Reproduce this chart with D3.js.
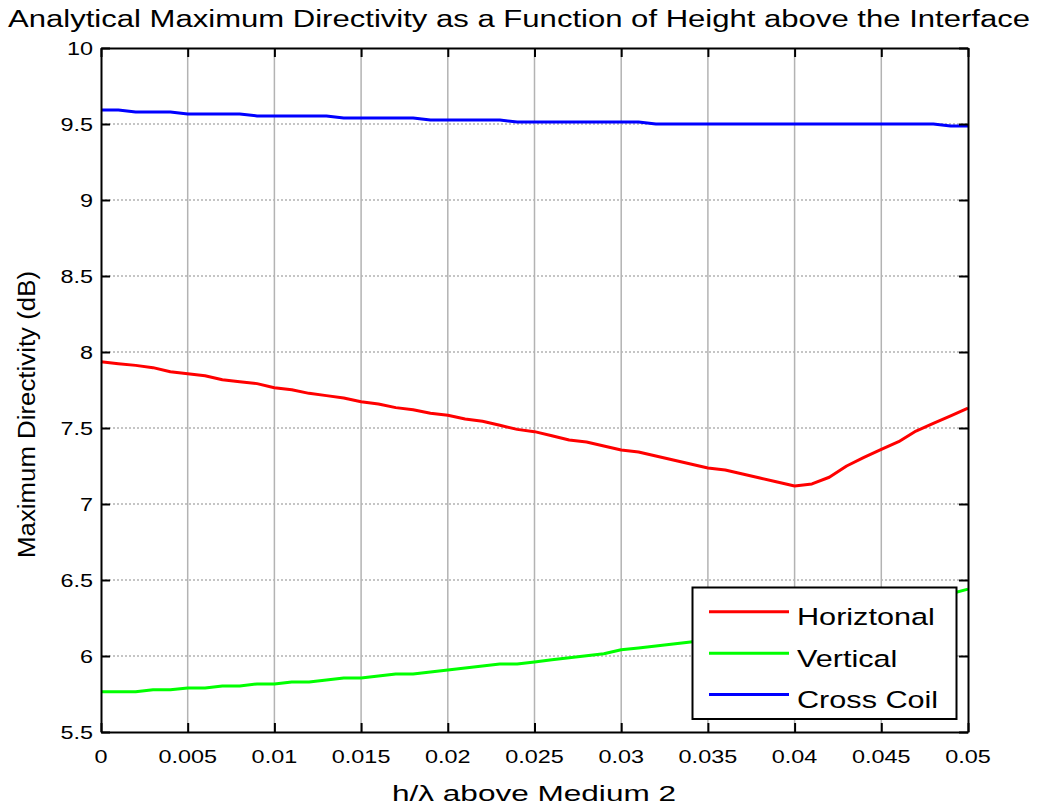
<!DOCTYPE html>
<html>
<head>
<meta charset="utf-8">
<script src="https://cdn.jsdelivr.net/npm/d3@7/dist/d3.min.js"></script>
<style>
  html, body { margin: 0; padding: 0; background: #fff; }
  svg { display: block; font-family: "Liberation Sans", Arial, sans-serif; }
</style>
</head>
<body>
<svg id="chart" width="1041" height="808"></svg>
<script>
// Height above the interface, in wavelengths
const hLambda = [
  0.000, 0.001, 0.002, 0.003, 0.004, 0.005, 0.006, 0.007, 0.008, 0.009,
  0.010, 0.011, 0.012, 0.013, 0.014, 0.015, 0.016, 0.017, 0.018, 0.019,
  0.020, 0.021, 0.022, 0.023, 0.024, 0.025, 0.026, 0.027, 0.028, 0.029,
  0.030, 0.031, 0.032, 0.033, 0.034, 0.035, 0.036, 0.037, 0.038, 0.039,
  0.040, 0.041, 0.042, 0.043, 0.044, 0.045, 0.046, 0.047, 0.048, 0.049,
  0.050
];

// Maximum directivity (dB) for each coil orientation
const horizontal = [
  7.936, 7.923, 7.912, 7.897, 7.870, 7.857, 7.844, 7.818, 7.805, 7.792,
  7.765, 7.752, 7.728, 7.713, 7.697, 7.673, 7.658, 7.634, 7.620, 7.597,
  7.584, 7.559, 7.544, 7.518, 7.491, 7.476, 7.449, 7.421, 7.408, 7.382,
  7.355, 7.342, 7.316, 7.289, 7.263, 7.237, 7.224, 7.197, 7.171, 7.145,
  7.118, 7.132, 7.176, 7.250, 7.307, 7.360, 7.410, 7.480, 7.530, 7.579,
  7.630
];
const vertical = [
  5.765, 5.765, 5.765, 5.778, 5.778, 5.789, 5.790, 5.803, 5.803, 5.816,
  5.816, 5.829, 5.829, 5.842, 5.855, 5.855, 5.868, 5.882, 5.882, 5.895,
  5.908, 5.921, 5.934, 5.947, 5.947, 5.961, 5.976, 5.989, 6.002, 6.015,
  6.041, 6.053, 6.066, 6.079, 6.092, 6.107, 6.122, 6.138, 6.155, 6.173,
  6.192, 6.212, 6.233, 6.255, 6.278, 6.302, 6.327, 6.353, 6.380, 6.410,
  6.440
];
const crossCoil = [
  9.592, 9.592, 9.579, 9.579, 9.579, 9.566, 9.566, 9.566, 9.566, 9.553,
  9.553, 9.553, 9.553, 9.553, 9.539, 9.539, 9.539, 9.539, 9.539, 9.526,
  9.526, 9.526, 9.526, 9.526, 9.513, 9.513, 9.513, 9.513, 9.513, 9.513,
  9.513, 9.513, 9.500, 9.500, 9.500, 9.500, 9.500, 9.500, 9.500, 9.500,
  9.500, 9.500, 9.500, 9.500, 9.500, 9.500, 9.500, 9.500, 9.500, 9.487,
  9.487
];

const seriesNames = ["Horiztonal", "Vertical", "Cross Coil"];
const seriesColors = ["#ff0000", "#00ff00", "#0000ff"];
const xTicks = [0, 0.005, 0.01, 0.015, 0.02, 0.025, 0.03, 0.035, 0.04, 0.045, 0.05];
const xTickLabels = ["0", "0.005", "0.01", "0.015", "0.02", "0.025", "0.03", "0.035", "0.04", "0.045", "0.05"];
const yTicks = [5.5, 6, 6.5, 7, 7.5, 8, 8.5, 9, 9.5, 10];
const yTickLabels = ["5.5", "6", "6.5", "7", "7.5", "8", "8.5", "9", "9.5", "10"];

const titleText = "Analytical Maximum Directivity as a Function of Height above the Interface";
const xLabelText = "h/\u03bb above Medium 2";
const yLabelText = "Maximum Directivity (dB)";

const series = [horizontal, vertical, crossCoil];

const svg = d3.select("#chart");
const plotL = 101, plotR = 968, plotT = 48, plotB = 732;
const x = d3.scaleLinear().domain([0, 0.05]).range([plotL, plotR]);
const y = d3.scaleLinear().domain([5.5, 10]).range([plotB, plotT]);
const textStretch = 1.26;

// Grid: solid vertical lines, dotted horizontal lines
const grid = svg.append("g");
grid.selectAll("line.vg").data(xTicks.slice(1, -1)).join("line")
  .attr("x1", d => x(d)).attr("x2", d => x(d))
  .attr("y1", plotT).attr("y2", plotB)
  .attr("stroke", "#b3b3b3").attr("stroke-width", 1.5);
grid.selectAll("line.hg").data(yTicks.slice(1, -1)).join("line")
  .attr("x1", plotL).attr("x2", plotR)
  .attr("y1", d => y(d)).attr("y2", d => y(d))
  .attr("stroke", "#b3b3b3").attr("stroke-width", 1.5)
  .attr("stroke-dasharray", "2,2");

// Data lines
const line = d3.line().x((d, i) => x(hLambda[i])).y(d => y(d));
svg.append("g").selectAll("path").data(series).join("path")
  .attr("d", d => line(d))
  .attr("fill", "none")
  .attr("stroke", (d, i) => seriesColors[i])
  .attr("stroke-width", 3)
  .attr("stroke-linejoin", "round");

// Axes with inward ticks on all four sides
const tickLen = 9;
const axisG = svg.append("g");
axisG.append("g").attr("transform", `translate(0,${plotB})`)
  .call(d3.axisBottom(x).tickValues(xTicks).tickSizeInner(-tickLen).tickSizeOuter(0).tickFormat(""));
axisG.append("g").attr("transform", `translate(0,${plotT})`)
  .call(d3.axisTop(x).tickValues(xTicks).tickSizeInner(-tickLen).tickSizeOuter(0).tickFormat(""));
axisG.append("g").attr("transform", `translate(${plotL},0)`)
  .call(d3.axisLeft(y).tickValues(yTicks).tickSizeInner(-tickLen).tickSizeOuter(0).tickFormat(""));
axisG.append("g").attr("transform", `translate(${plotR},0)`)
  .call(d3.axisRight(y).tickValues(yTicks).tickSizeInner(-tickLen).tickSizeOuter(0).tickFormat(""));
axisG.selectAll(".domain").attr("stroke", "#000").attr("stroke-width", 2);
axisG.selectAll(".tick line").attr("stroke", "#000").attr("stroke-width", 2);

// Tick labels
svg.append("g").selectAll("text").data(xTicks).join("text")
  .attr("transform", d => `translate(${x(d)},763) scale(${textStretch},1)`)
  .attr("text-anchor", "middle")
  .attr("font-size", 18.6)
  .attr("fill", "#000")
  .text((d, i) => xTickLabels[i]);
svg.append("g").selectAll("text").data(yTicks).join("text")
  .attr("transform", d => `translate(93,${y(d) + 6.7}) scale(${textStretch},1)`)
  .attr("text-anchor", "end")
  .attr("font-size", 18.6)
  .attr("fill", "#000")
  .text((d, i) => yTickLabels[i]);

// Title and axis labels
svg.append("text")
  .attr("x", 8).attr("y", 27)
  .attr("font-size", 23)
  .attr("textLength", 1022).attr("lengthAdjust", "spacingAndGlyphs")
  .text(titleText);
svg.append("text")
  .attr("x", 392).attr("y", 801)
  .attr("font-size", 21.5)
  .attr("textLength", 284).attr("lengthAdjust", "spacingAndGlyphs")
  .text(xLabelText);
svg.append("text")
  .attr("transform", "translate(35,558) rotate(-90)")
  .attr("font-size", 23.5)
  .attr("textLength", 287).attr("lengthAdjust", "spacingAndGlyphs")
  .text(yLabelText);

// Legend
const legend = svg.append("g");
legend.append("rect")
  .attr("x", 692.5).attr("y", 587.5).attr("width", 264).attr("height", 131.5)
  .attr("fill", "#fff").attr("stroke", "#000").attr("stroke-width", 2);
const rowY = [611.7, 653.3, 694.5];
const rows = legend.selectAll("g.row").data(seriesNames).join("g");
rows.append("line")
  .attr("x1", 709).attr("x2", 789)
  .attr("y1", (d, i) => rowY[i]).attr("y2", (d, i) => rowY[i])
  .attr("stroke", (d, i) => seriesColors[i]).attr("stroke-width", 3);
rows.append("text")
  .attr("transform", (d, i) => `translate(797,${rowY[i] + 13.5}) scale(1.25,1)`)
  .attr("font-size", 24.5)
  .attr("fill", "#000")
  .text(d => d);
</script>
</body>
</html>
